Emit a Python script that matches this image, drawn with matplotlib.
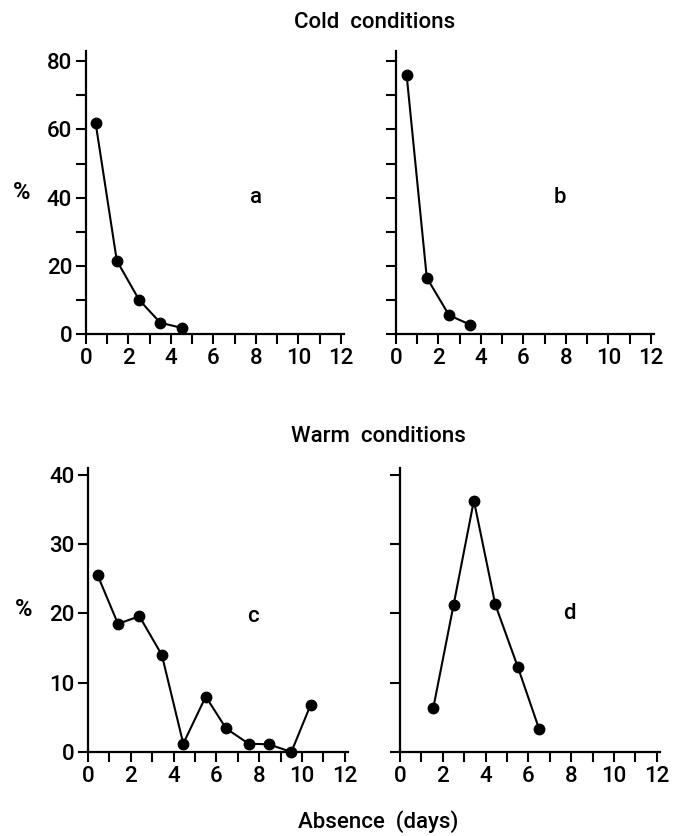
import matplotlib
matplotlib.use("Agg")
from matplotlib import pyplot as plt
from matplotlib.ticker import MultipleLocator

plt.rcParams['font.family'] = ['Roboto', 'DejaVu Sans']
plt.rcParams['font.weight'] = 'medium'

# cold conditions
a_x = [0.45, 1.45, 2.5, 3.5, 4.5]
a_y = [62, 21.5, 10, 3.3, 1.8]
b_x = [0.5, 1.45, 2.5, 3.5]
b_y = [76, 16.5, 5.5, 2.7]

# warm conditions
c_x = [0.45, 1.4, 2.4, 3.45, 4.45, 5.5, 6.45, 7.5, 8.45, 9.5, 10.4]
c_y = [25.5, 18.5, 19.6, 14, 1.2, 8, 3.4, 1.2, 1.1, 0, 6.8]
d_x = [1.55, 2.5, 3.45, 4.45, 5.5, 6.5]
d_y = [6.3, 21.2, 36.3, 21.3, 12.3, 3.3]

x_ticks = [0, 2, 4, 6, 8, 10, 12]
fs = 16

fig = plt.figure(figsize=(6.73, 8.36), dpi=100)

ax_a = fig.add_axes([0.1278, 0.6005, 0.3834, 0.3385])
ax_b = fig.add_axes([0.5884, 0.6005, 0.3834, 0.3385])
ax_c = fig.add_axes([0.1308, 0.1005, 0.3864, 0.3397])
ax_d = fig.add_axes([0.5944, 0.1005, 0.3864, 0.3397])


def style(ax, ymax, ymaj, ymin, show_y, letter, letter_xy):
    for s in ['top', 'right']:
        ax.spines[s].set_visible(False)
    for s in ['left', 'bottom']:
        ax.spines[s].set_linewidth(1.6)
    ax.set_xlim(0, 12.15)
    ax.set_ylim(0, ymax)
    ax.set_xticks(x_ticks)
    ax.xaxis.set_minor_locator(MultipleLocator(1))
    ax.yaxis.set_major_locator(MultipleLocator(ymaj))
    if ymin:
        ax.yaxis.set_minor_locator(MultipleLocator(ymin))
    ax.tick_params(which='both', direction='out', length=7, width=1.5, labelsize=fs, pad=3)
    if not show_y:
        ax.set_yticklabels([])
    else:
        ax.set_ylabel('%', rotation=0, fontsize=fs + 1, fontweight='bold', labelpad=18, va='center')
    ax.text(letter_xy[0], letter_xy[1], letter, fontsize=fs, ha='center', va='center')


for ax, xs, ys in [(ax_a, a_x, a_y), (ax_b, b_x, b_y), (ax_c, c_x, c_y), (ax_d, d_x, d_y)]:
    ax.plot(xs, ys, color='black', lw=1.5, marker='o', markersize=7.5, clip_on=False)

style(ax_a, 83, 20, 10, True, 'a', (8.0, 40))
style(ax_b, 83, 10, None, False, 'b', (7.7, 40))
style(ax_c, 41, 10, None, True, 'c', (7.7, 19.6))
style(ax_d, 41, 10, None, False, 'd', (7.9, 20))

fig.text(375 / 673, 1 - 22 / 836, 'Cold  conditions', ha='center', va='center', fontsize=fs)
fig.text(378 / 673, 1 - 437 / 836, 'Warm  conditions', ha='center', va='center', fontsize=fs)
fig.text(378 / 673, 1 - 822 / 836, 'Absence  (days)', ha='center', va='center', fontsize=fs)

fig.savefig('out.png', dpi=100)
